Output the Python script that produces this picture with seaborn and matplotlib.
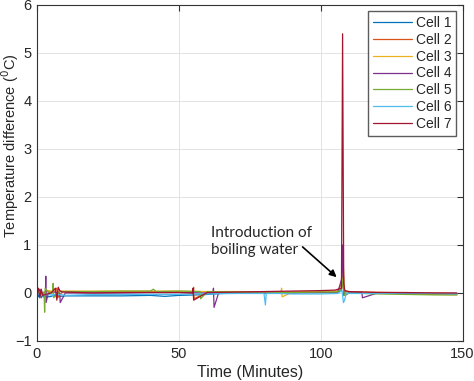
import pandas as pd
import seaborn as sns
import matplotlib.pyplot as plt

# Datos (tiempo en minutos, diferencia de temperatura en C)
t1 = [0, 0.5, 1, 1.5, 2, 2.5, 3, 4, 5, 6, 8, 10, 14, 20, 30, 40, 45, 50, 56, 60, 65, 70, 80, 90, 100, 106, 107.3, 107.7, 108.1, 108.6, 110, 120, 130, 140, 148]
v1 = [-0.02, -0.08, 0.05, -0.1, -0.05, -0.09, -0.06, -0.08, -0.07, -0.05, -0.07, -0.06, -0.06, -0.06, -0.06, -0.05, -0.07, -0.05, -0.04, -0.03, -0.01, 0.0, 0.0, 0.01, 0.01, 0.02, 0.05, 0.6, -0.05, 0.03, 0.01, 0.0, 0.0, -0.01, -0.01]

t2 = [0, 1, 2, 3, 5, 7, 7.3, 9, 12, 20, 30, 40, 50, 55, 55.2, 55.4, 60, 70, 80, 90, 100, 106, 107.4, 107.8, 108.3, 109, 115, 125, 140, 148]
v2 = [0.02, 0.05, -0.05, 0.03, 0.02, 0.1, -0.1, 0.03, 0.02, 0.02, 0.02, 0.03, 0.02, 0.02, 0.12, -0.12, 0.02, 0.02, 0.02, 0.02, 0.03, 0.04, 0.2, 0.8, 0.05, 0.03, 0.02, 0.01, 0.0, -0.01]

t3 = [0, 2, 4, 6, 10, 20, 30, 40, 50, 60, 70, 80, 86, 86.2, 86.4, 90, 100, 106, 107.5, 107.9, 108.4, 110, 120, 130, 140, 148]
v3 = [0.03, 0.0, 0.05, 0.03, 0.04, 0.04, 0.04, 0.04, 0.04, 0.03, 0.03, 0.02, 0.02, 0.1, -0.08, 0.02, 0.03, 0.03, 0.1, 0.4, 0.0, 0.02, 0.0, -0.02, -0.03, -0.04]

t4 = [0, 1, 2, 3, 3.1, 3.2, 4, 6, 8, 8.2, 10, 20, 30, 40, 50, 60, 62, 62.2, 62.4, 64, 70, 80, 90, 100, 106, 107.4, 107.7, 108.1, 108.6, 110, 114.5, 114.7, 120, 130, 148]
v4 = [0.0, 0.08, -0.05, 0.0, 0.35, -0.2, 0.0, 0.02, 0.0, -0.2, 0.0, 0.0, 0.0, 0.01, 0.01, 0.0, 0.0, 0.1, -0.3, 0.0, 0.0, 0.0, 0.0, 0.01, 0.01, 0.3, 1.0, 0.1, -0.05, 0.01, 0.01, -0.1, 0.0, -0.01, -0.02]

t5 = [0, 1, 2.5, 2.7, 2.9, 4, 5.5, 5.7, 5.9, 8, 12, 20, 30, 40, 41, 42, 50, 57.5, 57.7, 60, 70, 80, 90, 100, 106, 107.5, 107.9, 108.3, 110, 120, 130, 140, 148]
v5 = [0.02, 0.0, 0.02, -0.4, 0.1, 0.02, 0.0, 0.2, -0.1, 0.03, 0.03, 0.03, 0.04, 0.04, 0.08, 0.03, 0.04, 0.03, -0.12, 0.03, 0.02, 0.02, 0.01, 0.02, 0.02, 0.1, 0.3, -0.05, 0.0, -0.02, -0.03, -0.04, -0.04]

t6 = [0, 1, 2, 3, 5, 8, 10, 15, 20, 30, 40, 50, 55, 60, 70, 80, 80.5, 80.8, 85, 90, 100, 106, 107.5, 108, 108.4, 109, 110, 120, 130, 140, 148]
v6 = [-0.03, 0.0, -0.06, -0.03, -0.04, -0.03, -0.05, -0.04, -0.03, -0.03, -0.03, -0.03, -0.02, -0.02, -0.01, -0.01, -0.25, -0.01, -0.01, -0.02, -0.02, -0.01, 0.05, -0.2, -0.15, 0.0, -0.01, -0.01, 0.0, -0.01, -0.02]

t7 = [0, 0.5, 1, 1.5, 2, 5, 6.5, 7, 7.5, 8, 9, 10, 15, 20, 30, 40, 50, 54.8, 55, 55.2, 60, 70, 80, 90, 100, 105, 107.3, 107.7, 108.1, 108.5, 110, 115, 120, 130, 140, 148]
v7 = [0.0, 0.1, -0.1, 0.08, -0.05, 0.0, 0.1, -0.15, 0.12, 0.05, 0.02, 0.02, 0.01, 0.0, 0.01, 0.01, 0.01, 0.0, 0.1, -0.15, 0.01, 0.02, 0.03, 0.04, 0.05, 0.06, 0.1, 5.4, 0.2, 0.05, 0.03, 0.02, 0.01, 0.01, 0.0, 0.0]

celdas = ['Cell 1', 'Cell 2', 'Cell 3', 'Cell 4', 'Cell 5', 'Cell 6', 'Cell 7']
colores = ['#0072BD', '#D95319', '#EDB120', '#7E2F8E', '#77AC30', '#4DBEEE', '#A2142F']

tiempos = [t1, t2, t3, t4, t5, t6, t7]
valores = [v1, v2, v3, v4, v5, v6, v7]

# Tabla larga para seaborn
filas = []
for nombre, t, v in zip(celdas, tiempos, valores):
    for ti, vi in zip(t, v):
        filas.append({'Tiempo': ti, 'Dif': vi, 'Celda': nombre})
datos = pd.DataFrame(filas)

sns.set_style('white')
plt.rcParams['font.family'] = ['Liberation Sans', 'DejaVu Sans']

fig = plt.figure(figsize=(4.74, 3.81), dpi=100)
ax = fig.add_axes([0.078, 0.105, 0.898, 0.882])

sns.lineplot(data=datos, x='Tiempo', y='Dif', hue='Celda', palette=colores,
             linewidth=0.9, ax=ax, estimator=None, errorbar=None)

ax.set_xlim(0, 150)
ax.set_ylim(-1, 6)
ax.set_xticks([0, 50, 100, 150])
ax.set_yticks(range(-1, 7))
ax.grid(True, color='#e3e3e3', linewidth=0.7)
ax.tick_params(direction='in', length=4, labelsize=10.5, color='#333333',
               top=True, right=True, labeltop=False, labelright=False, pad=4)
for s in ax.spines.values():
    s.set_color('#333333')
    s.set_linewidth(0.8)

ax.set_xlabel('Time (Minutes)', fontsize=11.5, labelpad=3)
ax.set_ylabel(r'Temperature difference ($^{0}$C)', fontsize=10.5)
ax.yaxis.set_label_coords(-0.037, 0.58)

ax.text(61.5, 0.75, 'Introduction of\nboiling water', fontsize=11,
        family=['Lato', 'DejaVu Sans'], ha='left', va='bottom', linespacing=1.3)
ax.annotate('', xy=(105.6, 0.33), xytext=(93.6, 0.96),
            arrowprops=dict(arrowstyle='-|>', color='black', lw=1.2,
                            shrinkA=0, shrinkB=0, mutation_scale=10))

ax.legend(loc='upper right', fontsize=10, frameon=True, fancybox=False,
          edgecolor='#333333', handlelength=2.8, borderaxespad=0.45,
          labelspacing=0.2, handletextpad=0.3, borderpad=0.35)

fig.savefig('out.png', dpi=100)
